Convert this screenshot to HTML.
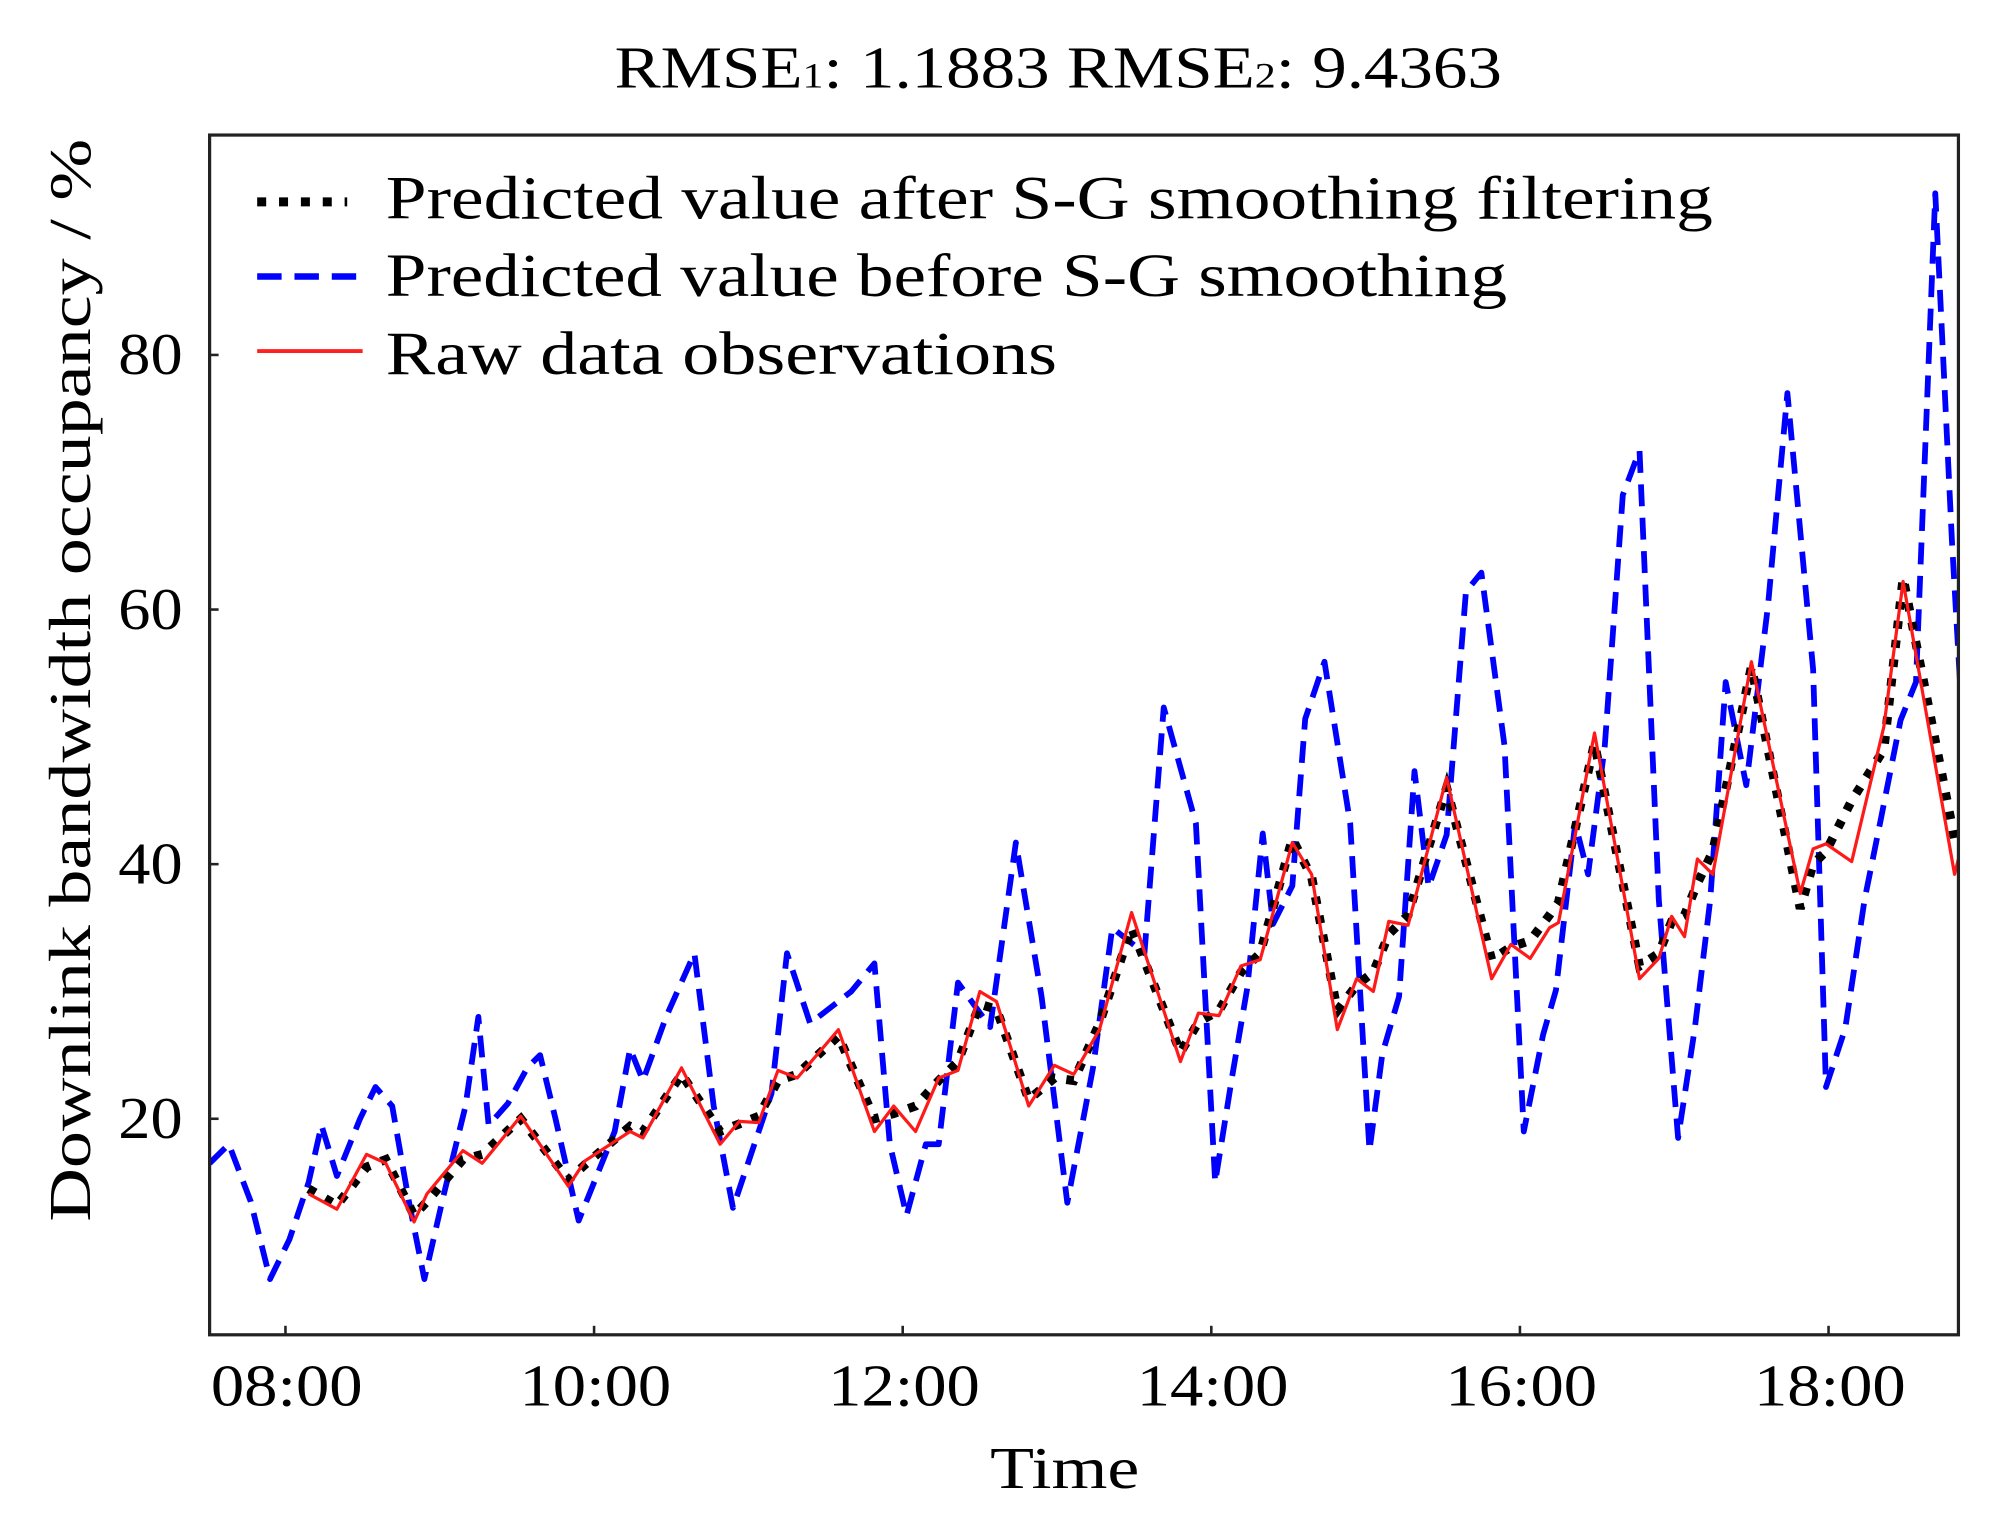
<!DOCTYPE html>
<html><head><meta charset="utf-8"><style>
html,body{margin:0;padding:0;background:#fff;}
svg{display:block;}
text{font-family:"Liberation Serif",serif;fill:#000;}
</style></head><body>
<svg id="chart" width="2006" height="1520" viewBox="0 0 1560 1182" xmlns="http://www.w3.org/2000/svg">
<text x="478" y="68" font-size="46" textLength="690" lengthAdjust="spacingAndGlyphs">RMSE<tspan font-size="28">1</tspan>: 1.1883    RMSE<tspan font-size="28">2</tspan>: 9.4363</text>
<defs><clipPath id="clip"><rect x="163" y="105" width="1360" height="935"/></clipPath></defs>
<g id="plot" clip-path="url(#clip)"></g>
<rect x="163" y="105" width="1360" height="933" fill="none" stroke="#222" stroke-width="2.5"/>
<g id="ticks"></g>
<text x="770" y="1157" font-size="46" textLength="116" lengthAdjust="spacingAndGlyphs">Time</text>
<text transform="translate(70,950) rotate(-90)" font-size="46" textLength="842" lengthAdjust="spacingAndGlyphs">Downlink bandwidth occupancy / %</text>
<g>
<line x1="200" y1="157" x2="270" y2="157" stroke="#000" stroke-width="7" stroke-dasharray="7,10"/>
<text x="300" y="170" font-size="48" textLength="1032" lengthAdjust="spacingAndGlyphs">Predicted value after S-G smoothing filtering</text>
<line x1="200" y1="215" x2="282" y2="215" stroke="#0000ff" stroke-width="5" stroke-dasharray="19,10"/>
<text x="300" y="230" font-size="48" textLength="872" lengthAdjust="spacingAndGlyphs">Predicted value before S-G smoothing</text>
<line x1="200" y1="273" x2="282" y2="273" stroke="#ff2020" stroke-width="3"/>
<text x="300" y="291" font-size="48" textLength="522" lengthAdjust="spacingAndGlyphs">Raw data observations</text>
</g>
</svg>
<script>
// minutes after 08:00
const redTimes=[9,20,31.5,39,50,55,69,76.5,91.5,110,116.5,134,139,154,169,176.5,184,191.5,199,215,229,236.5,245,254,261.5,270,276.5,289,299,306.5,316.5,329,348,355,363,371.5,379,391.5,399,409,416.5,423,429,436.5,451.5,469,476.5,484,491.5,495,509,526.5,534,539,544,549,555,570,589,594,599,609,621.5,629,649,654];
const redValues=[14.1,12.9,17.2,16.5,11.9,14.1,17.5,16.5,20.2,14.7,16.7,19,18.5,24,18,19.8,19.7,23.8,23.2,27,19,21,19,23.2,23.8,30,29.2,21,24.2,23.5,27,36.2,24.5,28.3,28.1,32,32.5,41.7,39.2,27,31,30,35.5,35.2,46.8,31,33.7,32.6,35,35.4,50.3,31,32.6,35.9,34.3,40.4,39.2,55.9,37.7,41.2,41.6,40.2,50.8,62.2,39.2,43.2];
const blackValues=[14.5,13.2,16.2,16.8,12.4,13.5,16.8,17.2,20,15.2,16.4,19.4,19,23.5,19,19.6,20.2,23,23.5,26.5,20,20.4,21,23,24.5,29,28.6,21.5,23.2,23,27.5,35,25.2,27.6,28.5,31.5,33,42,39,28.5,30.5,31.5,34.5,36,46,32.5,33.5,34,36,37,49.5,32,33,35.5,36,38.5,41,55.5,36.5,40,41,45,49,62.5,42,43];
const blueTimes=[-29.5,-22,-13.5,-6,1.5,9,14,20,29,35,41.5,48,54,61.5,70,75,79,86.5,94,99,105,114,120,128,134,139,148,159,166.5,174,184,189,195,204,220,229,235,241.5,249,254,261.5,274,284,294,304,314,321.5,334,341.5,354,361.5,368,374,380,384,391.5,396.5,404,414,421.5,426.5,433,439,444.5,451.5,459,465,474,481.5,489,494,501.5,506.5,513,520,526.5,534,541.5,548,554,560,568,576.5,584,594,599,606.5,614,620,628,634,641.5,648,654];
const blueValues=[16.5,18,13.5,7.4,10.5,15,19.5,15.5,20,22.5,21,13.5,7.4,14,21,28,19.5,21.2,24,25,20,12,15,19,25.5,23,28,33,21,13,19,22,33,27.5,30,32.2,18,12.4,18,18,30.7,27.2,41.7,29.6,13.4,24,35,33,52.3,43.2,15,23.2,30.3,42.4,35.3,38.3,51.4,55.9,43.2,17.5,25.1,29.6,47.3,38.2,42.3,61.4,62.9,49.3,19,26.6,30.1,43.2,39.2,49.3,69,72.5,37.2,18.5,27.1,37.2,54.3,46.2,60.4,77,55.3,22.5,27.1,37.2,43.2,51.3,54.3,92.7,65.3,44.1,23];
const yTicks=[20,40,60,80];
const xTickLabels=["08:00","10:00","12:00","14:00","16:00","18:00"];
const xTickMinutes=[0,120,240,360,480,600];

const NS="http://www.w3.org/2000/svg";
function xs(m){return 222+m*2;}
function ys(v){return 870-(v-20)*9.9;}
const plot=document.getElementById('plot');
function path(times,vals,attrs,name){
  const p=document.createElementNS(NS,'path');
  let d='';
  times.forEach((t,i)=>{d+=(i?'L':'M')+xs(t).toFixed(1)+','+ys(vals[i]).toFixed(1);});
  p.setAttribute('d',d);
  for(const k in attrs)p.setAttribute(k,attrs[k]);
  p.setAttribute('fill','none');
  
  
  plot.appendChild(p);
}
path(blueTimes,blueValues,{stroke:'#0000ff','stroke-width':4.5,'stroke-dasharray':'17,9','stroke-linejoin':'round'},'series-before-smoothing');
path(redTimes,blackValues,{stroke:'#000','stroke-width':7,'stroke-dasharray':'6,9'},'series-after-smoothing');
path(redTimes,redValues,{stroke:'#ff1a1a','stroke-width':2.5,'stroke-linejoin':'round'},'series-raw');
const tg=document.getElementById('ticks');
yTicks.forEach(v=>{
  const l=document.createElementNS(NS,'line');
  l.setAttribute('x1',163);l.setAttribute('x2',170);l.setAttribute('y1',ys(v));l.setAttribute('y2',ys(v));
  l.setAttribute('stroke','#222');l.setAttribute('stroke-width',2);
  
  
  tg.appendChild(l);
  const t=document.createElementNS(NS,'text');
  t.setAttribute('x',92);t.setAttribute('y',ys(v)+15);t.setAttribute('font-size',46);
  t.setAttribute('textLength',50);t.setAttribute('lengthAdjust','spacingAndGlyphs');
  t.textContent=v;
  
  
  tg.appendChild(t);
});
xTickMinutes.forEach((m,i)=>{
  const l=document.createElementNS(NS,'line');
  l.setAttribute('x1',xs(m));l.setAttribute('x2',xs(m));l.setAttribute('y1',1038);l.setAttribute('y2',1031);
  l.setAttribute('stroke','#222');l.setAttribute('stroke-width',2);
  
  
  tg.appendChild(l);
  const t=document.createElementNS(NS,'text');
  t.setAttribute('x',xs(m)-58);t.setAttribute('y',1093);t.setAttribute('font-size',46);
  t.setAttribute('textLength',118);t.setAttribute('lengthAdjust','spacingAndGlyphs');
  t.textContent=xTickLabels[i];
  
  
  tg.appendChild(t);
});
</script>
</body></html>
